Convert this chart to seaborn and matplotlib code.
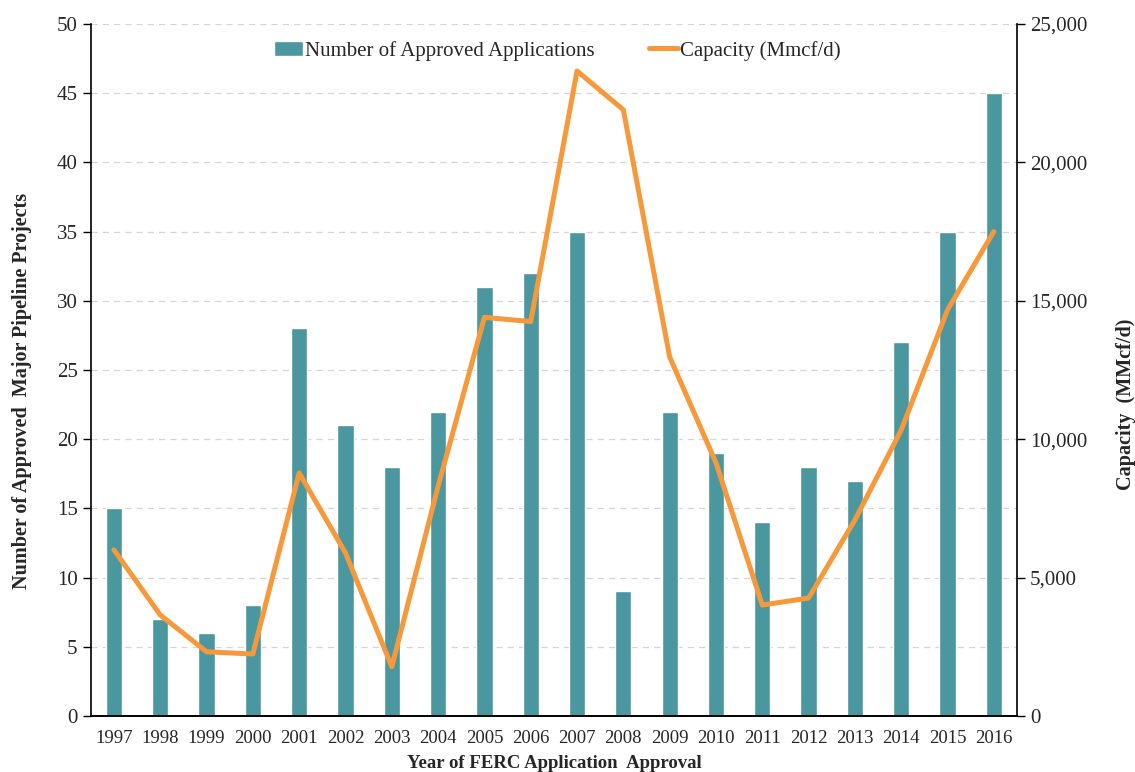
import numpy as np
import pandas as pd
import matplotlib
matplotlib.use('Agg')
import matplotlib.pyplot as plt
from matplotlib.ticker import FuncFormatter, FixedLocator
import seaborn as sns

# datos
years = [str(y) for y in range(1997, 2017)]
approved = [15, 7, 6, 8, 28, 21, 18, 22, 31, 32, 35, 9, 22, 19, 14, 18, 17, 27, 35, 45]
capacity = [6000, 3650, 2320, 2240, 8780, 5890, 1780, 8300, 14400, 14250,
            23300, 21900, 12970, 9150, 4010, 4260, 7080, 10330, 14670, 17500]

bar_color = '#4a979f'
line_color = '#f7993b'

sns.set_style('white')
plt.rcParams['font.family'] = ['Liberation Serif', 'DejaVu Serif']

df = pd.DataFrame({'year': years, 'approved': approved, 'capacity': capacity})
df['pos'] = np.arange(len(years))

fig = plt.figure(figsize=(11.35, 7.72), dpi=100)
ax = fig.add_axes([0.080, 0.0725, 0.816, 0.8965])

ax.yaxis.grid(True, linestyle=(0, (5, 4)), color='#d6d6d6', linewidth=0.9)
ax.set_axisbelow(True)

sns.barplot(data=df, x='year', y='approved', color=bar_color, width=0.35,
            saturation=1, ax=ax, label='Number of Approved Applications')

ax2 = ax.twinx()
sns.lineplot(data=df, x='pos', y='capacity', color=line_color, linewidth=3.6,
             ax=ax2, label='Capacity (Mmcf/d)', legend=False)

ax.set_xlim(-0.5, len(years) - 0.5)
ax.set_ylim(0, 50)
ax.set_yticks(range(0, 51, 5))
ax2.set_ylim(0, 25000)
ax2.set_yticks(range(0, 25001, 5000))
ax2.yaxis.set_major_formatter(FuncFormatter(lambda v, p: f'{int(v):,}'))

# ticks entre categorias
ax.set_xticks(range(len(years)))
ax.set_xticklabels(years)
ax.xaxis.set_minor_locator(FixedLocator(np.arange(-0.5, len(years), 1)))
ax.tick_params(axis='x', which='major', length=0, labelsize=13.5, pad=10)
ax.tick_params(axis='x', which='minor', length=6, width=1, color='black', direction='out')
ax.tick_params(axis='y', length=6, width=1, color='black', direction='out', labelsize=15, left=True)
ax2.tick_params(axis='y', length=6, width=1, color='black', direction='out', labelsize=15, right=True)

for a in (ax, ax2):
    a.spines['top'].set_visible(False)
    for s in ('left', 'right', 'bottom'):
        a.spines[s].set_color('black')
        a.spines[s].set_linewidth(1.2)
ax.spines['right'].set_visible(False)
ax2.spines['left'].set_visible(False)
ax2.grid(False)

ax.set_xlabel('Year of FERC Application  Approval', fontsize=13.5, fontweight='bold', labelpad=6)
ax.set_ylabel('Number of Approved  Major Pipeline Projects', fontsize=14.5, fontweight='bold')
ax2.set_ylabel('Capacity  (MMcf/d)', fontsize=14.5, fontweight='bold')
ax.yaxis.set_label_coords(-0.063, 0.47)
ax2.yaxis.set_label_coords(1.107, 0.45)

h1, l1 = ax.get_legend_handles_labels()
h2, l2 = ax2.get_legend_handles_labels()
if ax.get_legend() is not None:
    ax.get_legend().remove()
ax2.legend(h1 + h2, l1 + l2, loc='upper center', bbox_to_anchor=(0.504, 1.0), ncol=2,
           frameon=False, fontsize=15, columnspacing=2.6, handlelength=1.4,
           handletextpad=0.1, borderaxespad=0.4)

fig.savefig('out.png', dpi=100)
